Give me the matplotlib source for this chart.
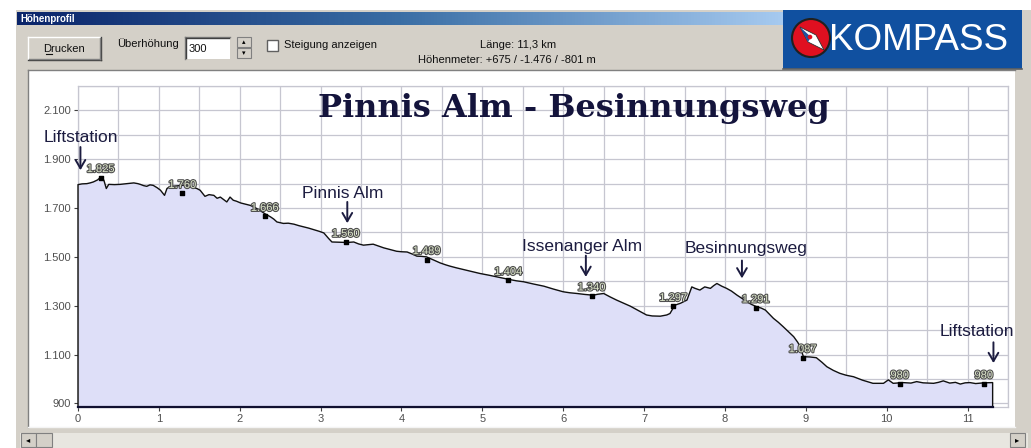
import numpy as np
import matplotlib
matplotlib.use("Agg")
import matplotlib.pyplot as plt
from matplotlib import font_manager
from matplotlib.patches import Rectangle, Circle, Polygon
from matplotlib.colors import LinearSegmentedColormap
import matplotlib.patheffects as pe

# ---------------- data ----------------
dist_km = [0.00, 0.05, 0.11, 0.15, 0.19, 0.24, 0.28, 0.32, 0.35, 0.38, 0.45, 0.52, 0.60, 0.69, 0.74,
           0.77, 0.81, 0.85, 0.89, 0.93, 0.98, 1.02, 1.07, 1.10, 1.14, 1.20, 1.29, 1.36, 1.43, 1.47,
           1.51, 1.57, 1.62, 1.68, 1.72, 1.76, 1.80, 1.84, 1.88, 1.92, 1.96, 2.01, 2.07, 2.13, 2.17,
           2.21, 2.26, 2.31, 2.38, 2.42, 2.46, 2.54, 2.60, 2.67, 2.73, 2.79, 2.85, 2.91, 2.98, 3.04,
           3.10, 3.14, 3.25, 3.33, 3.41, 3.47, 3.53, 3.59, 3.65, 3.72, 3.78, 3.86, 3.94, 4.00, 4.07,
           4.13, 4.19, 4.25, 4.31, 4.40, 4.48, 4.55, 4.60, 4.68, 4.77, 4.87, 4.97, 5.08, 5.18, 5.26,
           5.34, 5.42, 5.51, 5.63, 5.76, 5.88, 6.00, 6.08, 6.17, 6.27, 6.37, 6.43, 6.50, 6.58, 6.66,
           6.75, 6.83, 6.93, 7.03, 7.10, 7.20, 7.28, 7.32, 7.38, 7.45, 7.53, 7.59, 7.63, 7.69, 7.75,
           7.82, 7.86, 7.90, 7.96, 8.02, 8.08, 8.15, 8.21, 8.27, 8.33, 8.39, 8.45, 8.50, 8.55, 8.60,
           8.66, 8.72, 8.78, 8.85, 8.90, 8.93, 8.97, 9.05, 9.13, 9.20, 9.26, 9.34, 9.42, 9.50, 9.59,
           9.70, 9.83, 9.96, 10.02, 10.08, 10.20, 10.30, 10.37, 10.45, 10.58, 10.64, 10.70, 10.78, 10.85, 10.91,
           10.97, 11.03, 11.10, 11.20, 11.31]
elev_m = [1796, 1799, 1800, 1803, 1807, 1815, 1826, 1814, 1780, 1797, 1796, 1797, 1800, 1803, 1800,
          1797, 1792, 1789, 1795, 1793, 1783, 1773, 1752, 1780, 1789, 1790, 1793, 1794, 1784, 1780,
          1773, 1748, 1755, 1752, 1740, 1745, 1735, 1725, 1745, 1732, 1728, 1721, 1716, 1711, 1705,
          1698, 1688, 1677, 1664, 1655, 1643, 1637, 1638, 1634, 1628, 1623, 1618, 1612, 1605, 1598,
          1575, 1561, 1560, 1559, 1561, 1553, 1548, 1550, 1552, 1544, 1537, 1530, 1523, 1521, 1520,
          1512, 1503, 1502, 1500, 1487, 1475, 1467, 1462, 1455, 1448, 1440, 1432, 1425, 1418, 1412,
          1407, 1402, 1398, 1389, 1380, 1368, 1357, 1353, 1350, 1346, 1343, 1347, 1350, 1336, 1323,
          1310, 1298, 1280, 1262, 1258, 1257, 1262, 1268, 1302, 1310, 1323, 1377, 1371, 1364, 1377,
          1371, 1382, 1391, 1380, 1371, 1360, 1343, 1330, 1316, 1305, 1296, 1290, 1282, 1265, 1248,
          1232, 1214, 1195, 1173, 1150, 1132, 1091, 1090, 1087, 1068, 1050, 1035, 1023, 1015, 1009,
          995, 982, 982, 996, 982, 985, 983, 989, 984, 982, 986, 992, 983, 986, 979,
          984, 985, 981, 984, 985]

marker_km = [0.28, 1.29, 2.31, 3.31, 4.31, 5.32, 6.35, 7.36, 8.38, 8.96, 10.16, 11.20]
marker_elev = [1825, 1760, 1666, 1560, 1489, 1404, 1340, 1297, 1291, 1087, 980, 980]
marker_labels = ["1.825", "1.760", "1.666", "1.560", "1.489", "1.404", "1.340",
                 "1.297", "1.291", "1.087", "980", "980"]

y_ticks = [900, 1100, 1300, 1500, 1700, 1900, 2100]
y_tick_labels = ["900", "1.100", "1.300", "1.500", "1.700", "1.900", "2.100"]
x_ticks = list(range(0, 12))

place_names = ["Liftstation", "Pinnis Alm", "Issenanger Alm", "Besinnungsweg", "Liftstation"]
place_text_km = [0.03, 3.27, 6.23, 8.26, 11.12]
place_text_elev = [1990, 1760, 1541, 1536, 1193]
place_arrow_km = [0.03, 3.33, 6.28, 8.21, 11.32]
place_arrow_top = [1950, 1725, 1505, 1485, 1150]
place_arrow_tip = [1855, 1638, 1418, 1412, 1065]

chart_title = "Pinnis Alm - Besinnungsweg"

# ---------------- fonts ----------------
avail = {f.name for f in font_manager.fontManager.ttflist}
def pick(*names):
    for n in names:
        if n in avail:
            return n
    return "DejaVu Sans"
UI = pick("Liberation Sans", "DejaVu Sans")
SERIF = pick("DejaVu Serif", "Liberation Serif")

W, H = 1031, 448
fig = plt.figure(figsize=(W / 100, H / 100), dpi=100)
fig.patch.set_facecolor("white")

# ---------------- background UI (pixel coordinates) ----------------
bg = fig.add_axes([0, 0, 1, 1], zorder=0)
bg.set_xlim(0, W)
bg.set_ylim(H, 0)
bg.axis("off")

GRAY = "#d4d0c8"
bg.add_patch(Rectangle((16, 10), W - 16, H - 10, facecolor=GRAY, edgecolor="none"))
grad = np.linspace(0, 1, 256).reshape(1, -1)
cm = LinearSegmentedColormap.from_list("tb", ["#0a246a", "#3a6ea5", "#a6caf0"])
bg.imshow(grad, extent=(17, 785, 25, 12), cmap=cm, aspect="auto", zorder=1)
bg.text(20, 18.5, "Höhenprofil", color="white", fontsize=7, fontweight="bold",
        family=UI, va="center", ha="left", zorder=2)

# Drucken button
bg.add_patch(Rectangle((28, 37), 73, 23, facecolor=GRAY, edgecolor="none", zorder=1))
bg.plot([28, 101], [37, 37], color="white", lw=1, zorder=2)
bg.plot([28, 28], [37, 60], color="white", lw=1, zorder=2)
bg.plot([28, 101], [60, 60], color="#404040", lw=1, zorder=2)
bg.plot([101, 101], [37, 60], color="#404040", lw=1, zorder=2)
bg.plot([29, 100], [59, 59], color="#808080", lw=1, zorder=2)
bg.plot([100, 100], [38, 59], color="#808080", lw=1, zorder=2)
bg.text(64.5, 48.5, "Drucken", fontsize=8, family=UI, ha="center", va="center", color="#101010", zorder=3)
bg.plot([45.5, 51.5], [54, 54], color="#101010", lw=0.8, zorder=3)

bg.text(117, 44, "Überhöhung", fontsize=8, family=UI, ha="left", va="center", color="#101010")
bg.add_patch(Rectangle((185, 37), 45, 22, facecolor="white", edgecolor="none", zorder=1))
bg.plot([185, 230], [37, 37], color="#808080", lw=1, zorder=2)
bg.plot([185, 185], [37, 59], color="#808080", lw=1, zorder=2)
bg.plot([186, 229], [38, 38], color="#404040", lw=1, zorder=2)
bg.plot([186, 186], [38, 58], color="#404040", lw=1, zorder=2)
bg.text(189, 48.5, "300", fontsize=8, family=UI, ha="left", va="center", color="#101010", zorder=3)
for y0 in (37, 48):
    bg.add_patch(Rectangle((237, y0), 14, 10, facecolor=GRAY, edgecolor="#808080", lw=0.8, zorder=2))
bg.text(244, 42, "▴", fontsize=5, ha="center", va="center", color="black", zorder=3)
bg.text(244, 53, "▾", fontsize=5, ha="center", va="center", color="black", zorder=3)
bg.add_patch(Rectangle((267, 40), 11, 11, facecolor="white", edgecolor="#606060", lw=1, zorder=2))
bg.text(284, 45.5, "Steigung anzeigen", fontsize=8, family=UI, ha="left", va="center", color="#101010")
bg.text(556, 45, "Länge: 11,3 km", fontsize=8, family=UI, ha="right", va="center", color="#101010")
bg.text(596, 60, "Höhenmeter: +675 / -1.476 / -801 m", fontsize=8, family=UI, ha="right",
        va="center", color="#101010")

# white chart panel
bg.add_patch(Rectangle((28, 70), 987, 357, facecolor="white", edgecolor="none", zorder=1))
bg.plot([28, 1015], [70, 70], color="#808080", lw=1, zorder=2)
bg.plot([28, 28], [70, 427], color="#808080", lw=1, zorder=2)
bg.plot([28, 1015], [427, 427], color="#f4f4f4", lw=1, zorder=2)

# scroll bar
bg.add_patch(Rectangle((20, 433), 1008, 15, facecolor="#e8e6e0", edgecolor="none", zorder=1))
for xb in (21, 1010):
    bg.add_patch(Rectangle((xb, 433), 15, 14, facecolor=GRAY, edgecolor="#808080", lw=0.8, zorder=2))
bg.add_patch(Rectangle((36, 433), 16, 14, facecolor=GRAY, edgecolor="#808080", lw=0.8, zorder=2))
bg.text(28.5, 440, "◂", fontsize=6, ha="center", va="center", color="black", zorder=3)
bg.text(1017.5, 440, "▸", fontsize=6, ha="center", va="center", color="black", zorder=3)

# KOMPASS logo
bg.add_patch(Rectangle((783, 10), 239, 59, facecolor="#1050a0", edgecolor="none", zorder=3))
bg.plot([783, 1022], [69, 69], color="#606060", lw=1.2, zorder=4)
bg.add_patch(Circle((811, 38), 19, facecolor="#e01020", edgecolor="#202020", lw=1.5, zorder=4))
bg.add_patch(Polygon([(800, 27), (816, 35), (824, 50), (808, 42)], closed=True,
                     facecolor="white", edgecolor="#303030", lw=0.6, zorder=5))
bg.add_patch(Polygon([(800, 27), (808, 42), (811, 37)], closed=True,
                     facecolor="#2050a0", edgecolor="none", zorder=6))
bg.add_patch(Circle((810, 37), 2.3, facecolor="#e01020", edgecolor="none", zorder=7))
bg.text(829, 40, "KOMPASS", color="white", fontsize=26.5, family=UI,
        ha="left", va="center", zorder=5)

# ---------------- main chart ----------------
ax = fig.add_axes([78 / W, (H - 407) / H, (1008 - 78) / W, (407 - 86) / H], zorder=2)
ax.set_facecolor("white")
YMIN, YMAX = 885, 2200
ax.set_xlim(0, 11.5)
ax.set_ylim(YMIN, YMAX)

ax.set_yticks(y_ticks)
ax.set_yticklabels(y_tick_labels)
ax.set_yticks(np.arange(900, 2201, 100), minor=True)
ax.set_xticks(x_ticks)
ax.set_xticklabels([str(v) for v in x_ticks])
ax.set_xticks(np.arange(0, 11.51, 0.5), minor=True)
ax.grid(True, which="both", color="#c6c6d0", lw=0.9)
ax.set_axisbelow(True)
ax.tick_params(axis="both", which="major", length=3, width=0.8, color="#404040",
               labelsize=8, labelcolor="#505050", pad=2)
ax.tick_params(axis="both", which="minor", length=0)
for lab in ax.get_xticklabels() + ax.get_yticklabels():
    lab.set_family(UI)
for s in ax.spines.values():
    s.set_color("#c6c6d0")
    s.set_linewidth(0.9)

px = [0] + dist_km + [dist_km[-1]]
py = [YMIN] + elev_m + [YMIN]
ax.fill(px, py, facecolor="#dedff8", edgecolor="none", zorder=2)
ax.plot(px, py, color="#101010", lw=1.0, zorder=3, clip_on=False)
ax.plot([0, dist_km[-1]], [YMIN, YMIN], color="#101030", lw=1.6, zorder=3, clip_on=False)

ax.scatter(marker_km, marker_elev, marker="s", s=12, color="black", zorder=4)
for xk, ye, lab in zip(marker_km, marker_elev, marker_labels):
    ax.annotate(lab, (xk, ye), xytext=(0, 2.5), textcoords="offset points",
                ha="center", va="bottom", fontsize=8, family=UI, color="#dfe8cc", zorder=5,
                path_effects=[pe.withStroke(linewidth=1.6, foreground="#505050")])

NAVY = "#1c1c40"
for name, tx, ty, ax_km, a0, a1 in zip(place_names, place_text_km, place_text_elev,
                                        place_arrow_km, place_arrow_top, place_arrow_tip):
    ax.text(tx, ty, name, fontsize=12.5, family=UI, color=NAVY, ha="center", va="center",
            zorder=6, clip_on=False)
    ax.annotate("", xy=(ax_km, a1), xytext=(ax_km, a0),
                arrowprops=dict(arrowstyle="->,head_length=0.6,head_width=0.35",
                                color=NAVY, lw=1.4, shrinkA=0, shrinkB=0),
                zorder=6, annotation_clip=False)

fig.text(574 / W, 1 - 109 / H, chart_title, fontsize=23, fontweight="bold", family=SERIF,
         color="#14143c", ha="center", va="center", zorder=10)

fig.savefig("out.png", dpi=100, facecolor=fig.get_facecolor())
